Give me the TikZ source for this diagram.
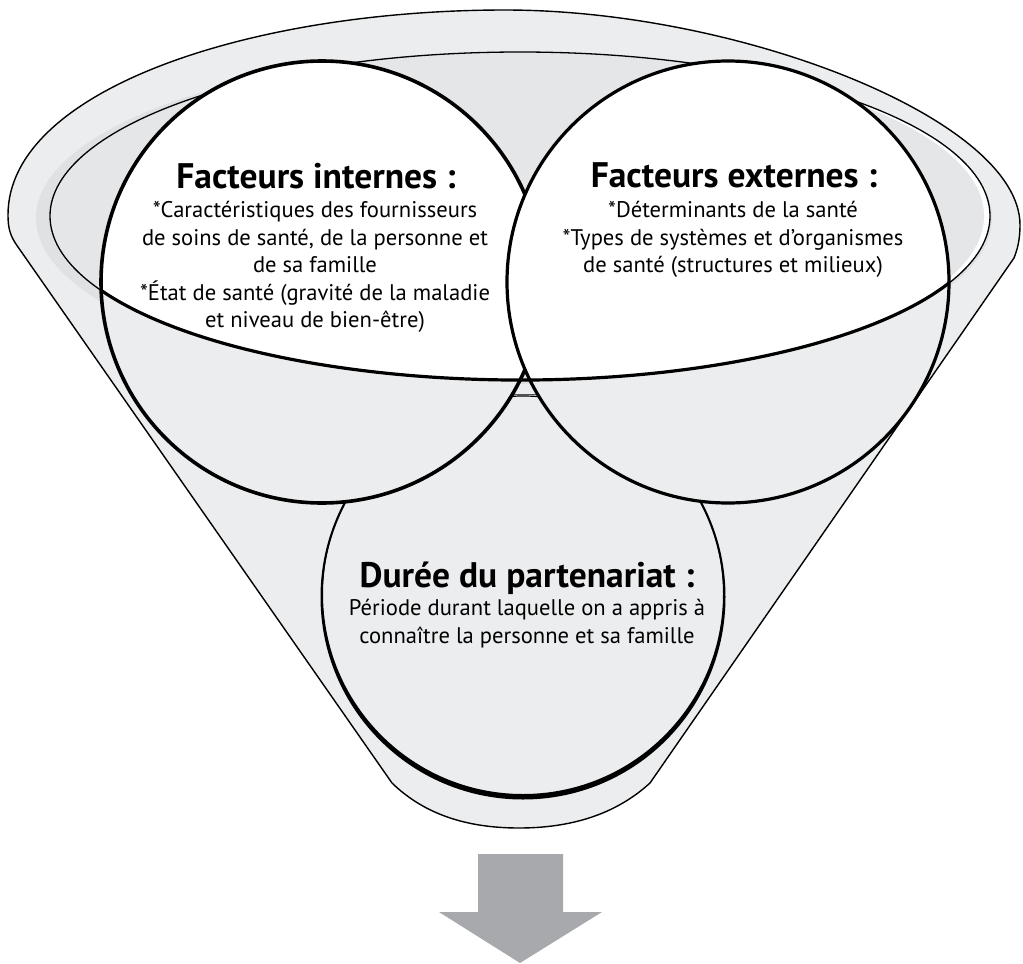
\documentclass[tikz,border=0pt]{standalone}
\usepackage{fontspec}
\setmainfont{PT Sans}
\definecolor{funnelgray}{HTML}{ECEDEE}
\definecolor{innergray}{HTML}{E5E6E8}
\definecolor{halogray}{HTML}{E0E1E3}
\definecolor{arrowgray}{HTML}{A7A9AC}
\begin{document}
\begin{tikzpicture}[x=1pt,y=-1pt,
  titletext/.style={font=\fontsize{35.5}{40}\selectfont\bfseries, anchor=base, inner sep=0pt},
  bodytext/.style={font=\fontsize{22.6}{27}\selectfont, anchor=base, inner sep=0pt},
  thinline/.style={draw=black, line width=1.3pt},
  bigcircle/.style={draw=black, line width=3.6pt}]
\useasboundingbox (0,0) rectangle (1023,964);

% funnel body
\path[fill=funnelgray, draw=black, line width=1.4pt, line join=round]
  (392,783) -- (18,247) .. controls (10,236) and (8,228) .. (8,215)
  .. controls (8,90) and (250,10) .. (505,10)
  .. controls (740,10) and (1020,120) .. (1020,225)
  .. controls (1020,238) and (1018,248) .. (1014,258)
  -- (650,783) .. controls (615,815) and (570,828) .. (519,828)
  .. controls (468,828) and (425,815) .. (392,783) -- cycle;

% rim shading and inner ellipse
\fill[halogray] (514,218) ellipse[x radius=478, y radius=166];
\fill[white] (520,216) ellipse[x radius=470, y radius=164];
\begin{scope}
  \clip (520,216) ellipse[x radius=470, y radius=164];
  \fill[innergray] (514,216) ellipse[x radius=470, y radius=164];
\end{scope}
\draw[thinline] (520,216) ellipse[x radius=470, y radius=164];

% bottom circle
\fill[funnelgray] (523,597) circle[radius=201];
\draw[thinline, line width=1.2pt] (523,597) circle[radius=201];
\fill[black, even odd rule] (523,597) circle[radius=202.5] (523,594) circle[radius=200];

% left circle
\fill[funnelgray] (322,282) circle[radius=221];
\begin{scope}
  \clip (50,216) arc[start angle=180, end angle=0, x radius=470, y radius=164] -- (990,0) -- (50,0) -- cycle;
  \fill[white] (322,282) circle[radius=221];
\end{scope}
\draw[bigcircle] (322,282) circle[radius=221];

% right circle
\fill[funnelgray] (728,282) circle[radius=221];
\begin{scope}
  \clip (50,216) arc[start angle=180, end angle=0, x radius=470, y radius=164] -- (990,0) -- (50,0) -- cycle;
  \fill[white] (728,282) circle[radius=221];
\end{scope}
\draw[bigcircle, line width=3.2pt] (728,282) circle[radius=221];

% thick lower edge of the inner ellipse
\draw[line width=3.2pt] (520,216) ++(153:470 and 164)
  arc[start angle=153, end angle=24, x radius=470, y radius=164];

% texts
\node[titletext] (fit) at (316,188) {Facteurs internes :};
\node[bodytext] (fi1) at (315,217) {*Caractéristiques des fournisseurs};
\node[bodytext] (fi2) at (315,245) {de soins de santé, de la personne et};
\node[bodytext] (fi3) at (315,272) {de sa famille};
\node[bodytext] (fi4) at (315,300) {*État de santé (gravité de la maladie};
\node[bodytext] (fi5) at (315,327) {et niveau de bien-être)};

\node[titletext] (fet) at (734,187) {Facteurs externes :};
\node[bodytext] (fe1) at (733,217) {*Déterminants de la santé};
\node[bodytext] (fe2) at (733,245) {*Types de systèmes et d’organismes};
\node[bodytext] (fe3) at (733,272) {de santé (structures et milieux)};

\node[titletext] (dpt) at (527,587) {Durée du partenariat :};
\node[bodytext] (dp1) at (527,615) {Période durant laquelle on a appris à};
\node[bodytext] (dp2) at (527,643) {connaître la personne et sa famille};

% output arrow
\fill[arrowgray] (478,854) -- (563,854) -- (563,912) -- (602,912) -- (520,963) -- (439,912) -- (478,912) -- cycle;
\end{tikzpicture}
\end{document}
